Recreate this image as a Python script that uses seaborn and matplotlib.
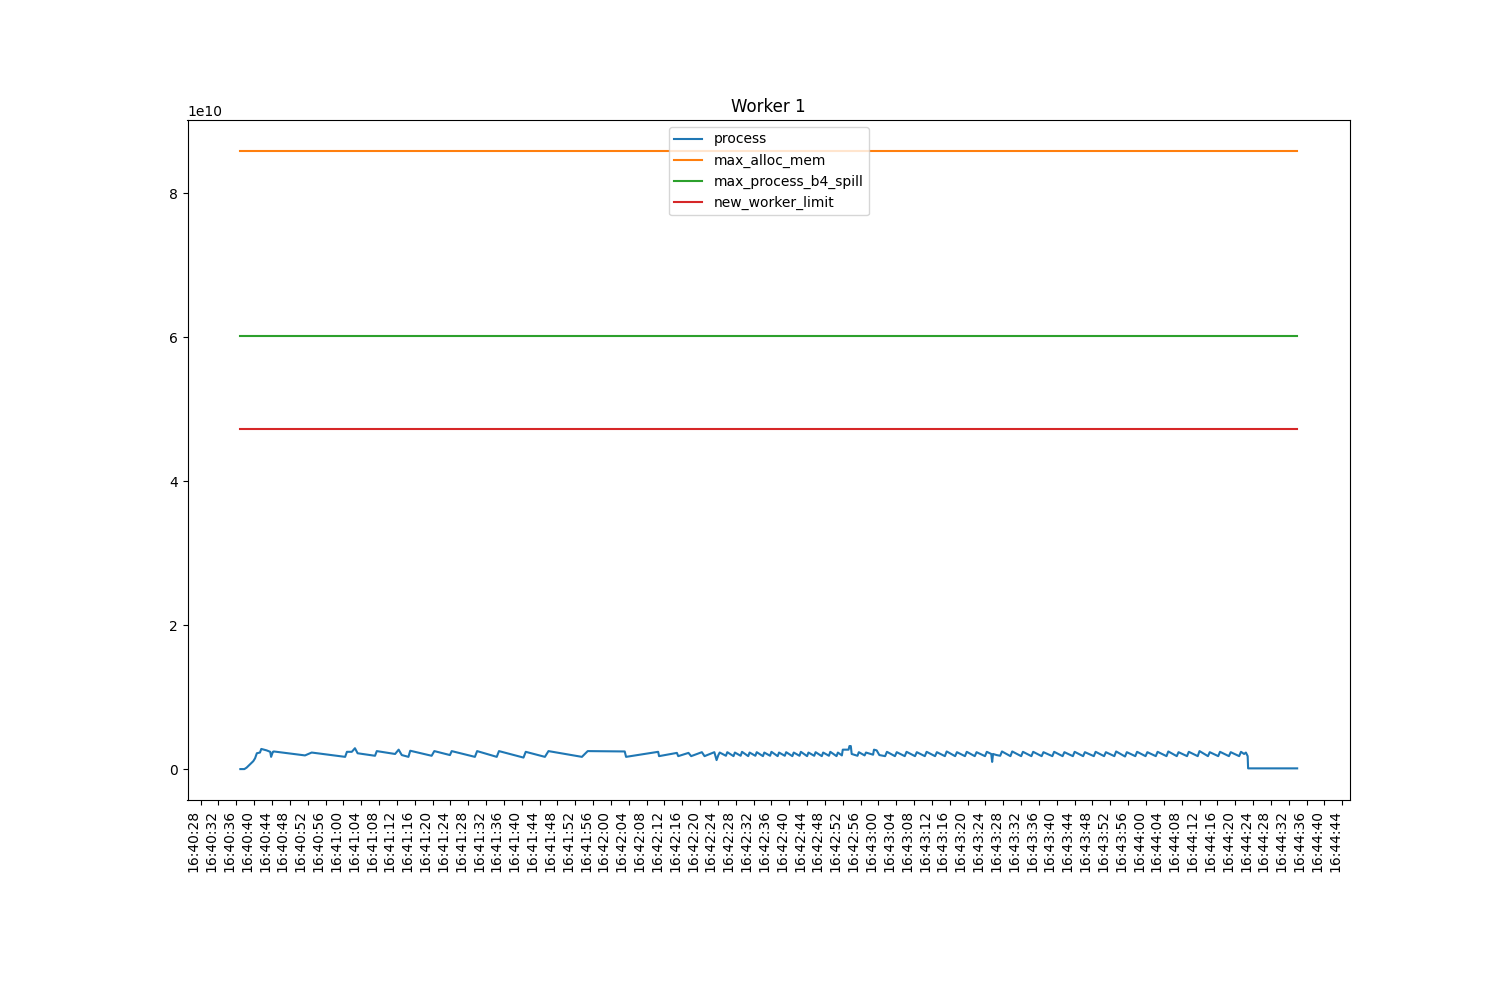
import pandas as pd
import numpy as np
import matplotlib
matplotlib.use('Agg')
import matplotlib.pyplot as plt
import matplotlib.dates as mdates
import seaborn as sns

# ==========================================
# data
# seconds after 16:40:00, process memory in GB
# ==========================================
t_sec = [
    36.9, 37.8, 38.3, 38.8, 39.3, 39.8, 40.2, 40.6, 41.3, 41.6, 42.8, 43.6, 43.8, 44.2, 44.4,
    51.4, 52.9, 60.4, 60.8, 61.9, 62.6, 63.2, 67.1, 67.5, 71.6, 72.4, 73.1, 74.6, 75.0,
    79.8, 80.4, 83.9, 84.3, 89.5, 90.0, 94.4, 94.9, 100.4, 100.9, 105.2, 106.0,
    113.5, 114.8, 123.1, 123.4, 126.5, 130.6, 130.8,
    134.8, 135.1, 137.4, 138.0, 140.4, 141.0, 143.2, 143.7, 144.1,
    144.4, 145.8, 146.1, 147.5, 147.8, 149.1, 149.4, 150.8, 151.1, 152.4, 152.7, 154.1,
    154.4, 155.7, 156.0, 157.4, 157.7, 159.0, 159.3, 160.7, 161.0, 162.3, 162.6, 164.0,
    164.3, 165.6, 165.9, 167.3, 167.6, 168.9, 169.2, 170.6, 170.9,
    171.8, 172.0, 173.3, 173.5, 173.8, 174.0,
    175.3, 175.6, 176.9, 177.2, 178.8, 179.0, 179.6, 180.2,
    181.5, 181.9, 183.7, 184.1, 185.9, 186.3, 188.2, 188.6, 190.4, 190.8, 192.7, 193.1,
    194.9, 195.3, 197.2, 197.6, 199.4, 199.8, 201.6, 202.0, 203.9, 204.3,
    205.3, 205.5, 205.7, 206.5, 207.3, 207.7,
    209.6, 210.0, 212.0, 212.4, 214.3, 214.7, 216.6, 217.0, 219.0, 219.4, 221.3, 221.7,
    223.6, 224.0, 225.9, 226.3, 228.3, 228.7, 230.6, 231.0, 232.9, 233.3, 235.3, 235.7,
    237.6, 238.0, 239.9, 240.3, 242.2, 242.6, 244.6, 245.0, 246.9, 247.3, 249.2, 249.6,
    251.6, 252.0, 253.9, 254.3, 256.2, 256.6, 258.6, 259.0, 260.9, 261.3,
    262.0, 262.4, 262.8, 262.9, 273.9,
]
process_gb = [
    0.0, 0.0, 0.2, 0.5, 0.8, 1.1, 1.5, 2.2, 2.3, 2.8, 2.6, 2.4, 1.7, 2.4, 2.45,
    1.9, 2.3, 1.7, 2.4, 2.4, 2.9, 2.2, 1.85, 2.5, 2.1, 2.7, 1.95, 1.7, 2.55,
    1.85, 2.5, 1.95, 2.5, 1.7, 2.5, 1.7, 2.5, 1.6, 2.4, 1.7, 2.5,
    1.7, 2.5, 2.45, 1.7, 2.0, 2.4, 1.8,
    2.25, 1.8, 2.25, 1.8, 2.35, 1.8, 2.35, 1.25, 1.95,
    2.3, 1.85, 2.35, 1.8, 2.3, 1.85, 2.4, 1.8, 2.3, 1.85, 2.35, 1.8,
    2.3, 1.85, 2.4, 1.8, 2.3, 1.85, 2.35, 1.8, 2.3, 1.85, 2.4, 1.8,
    2.3, 1.85, 2.35, 1.8, 2.3, 1.85, 2.4, 1.8, 2.3,
    1.9, 2.7, 2.7, 3.2, 3.2, 2.1,
    1.85, 2.35, 1.9, 2.3, 2.0, 2.7, 2.6, 1.95,
    1.8, 2.4, 1.8, 2.35, 1.8, 2.4, 1.8, 2.35, 1.8, 2.4, 1.8, 2.35,
    1.8, 2.45, 1.8, 2.35, 1.8, 2.4, 1.8, 2.35, 1.8, 2.4,
    2.1, 1.0, 2.1, 1.95, 1.85, 2.45,
    1.8, 2.45, 1.8, 2.4, 1.8, 2.4, 1.8, 2.35, 1.8, 2.4, 1.8, 2.35,
    1.8, 2.4, 1.8, 2.35, 1.8, 2.4, 1.8, 2.35, 1.8, 2.45, 1.75, 2.35,
    1.8, 2.4, 1.8, 2.35, 1.8, 2.4, 1.8, 2.45, 1.8, 2.35, 1.8, 2.4,
    1.8, 2.5, 1.8, 2.35, 1.8, 2.4, 1.8, 2.35, 1.8, 2.4,
    2.1, 2.3, 1.8, 0.1, 0.1,
]

# worker limits (bytes)
max_alloc_mem = 85899345920
max_process_b4_spill = 60129542144
new_worker_limit = 47244640256

# ==========================================
# build dataframe
# ==========================================
base = pd.Timestamp('2023-01-01 16:40:00')
df = pd.DataFrame({
    'time': base + pd.to_timedelta(t_sec, unit='s'),
    'process': np.array(process_gb) * 1e9,
})
df['max_alloc_mem'] = max_alloc_mem
df['max_process_b4_spill'] = max_process_b4_spill
df['new_worker_limit'] = new_worker_limit

# ==========================================
# plot
# ==========================================
fig, ax = plt.subplots(figsize=(15, 10), dpi=100)

cols = ['process', 'max_alloc_mem', 'max_process_b4_spill', 'new_worker_limit']
for i, col in enumerate(cols):
    sns.lineplot(data=df, x='time', y=col, label=col, color=f'C{i}',
                 estimator=None, sort=False, ax=ax)

ax.set_title('Worker 1')
ax.set_xlabel('')
ax.set_ylabel('')
ax.legend(loc='upper center')

ax.xaxis.set_major_locator(mdates.SecondLocator(interval=4))
ax.xaxis.set_major_formatter(mdates.DateFormatter('%H:%M:%S'))
fig.autofmt_xdate(rotation=90)

plt.savefig('out.png', dpi=100)
